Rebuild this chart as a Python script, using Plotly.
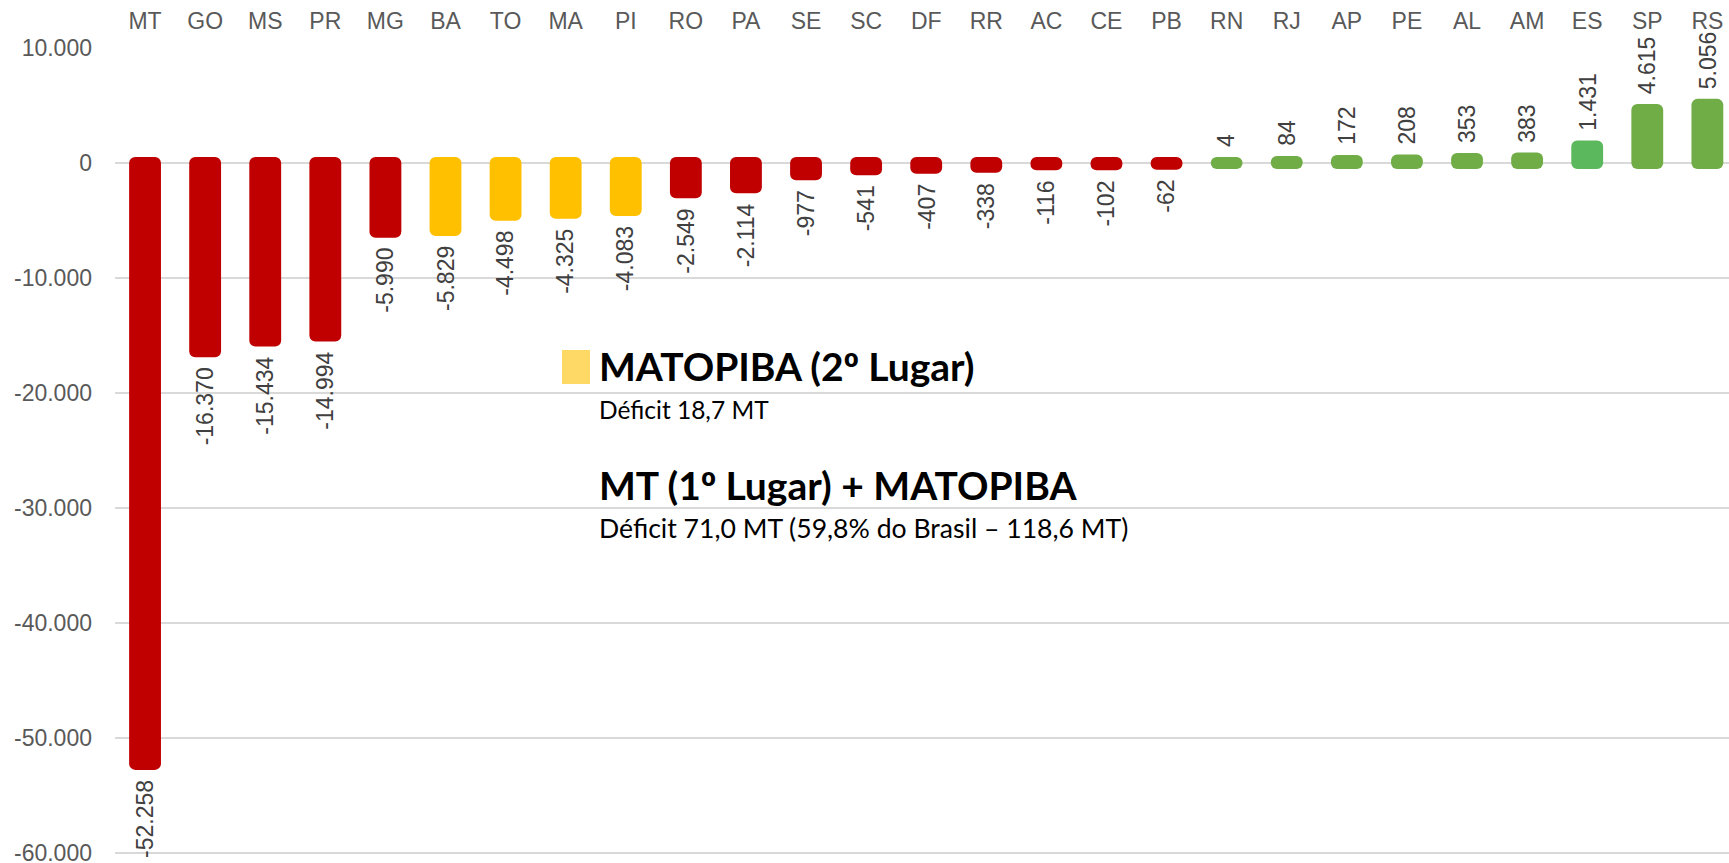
import plotly.graph_objects as go

# ---------------- data ----------------
states = ["MT", "GO", "MS", "PR", "MG", "BA", "TO", "MA", "PI", "RO", "PA", "SE", "SC", "DF",
          "RR", "AC", "CE", "PB", "RN", "RJ", "AP", "PE", "AL", "AM", "ES", "SP", "RS"]
balance = [-52258, -16370, -15434, -14994, -5990, -5829, -4498, -4325, -4083, -2549, -2114,
           -977, -541, -407, -338, -116, -102, -62, 4, 84, 172, 208, 353, 383, 1431, 4615, 5056]
matopiba = ["BA", "TO", "MA", "PI"]
highlight = ["ES"]
y_ticks = [10000, 0, -10000, -20000, -30000, -40000, -50000, -60000]

ORD = "<span style=\"font-family:'Noto Sans'\">º</span>"
title1 = f"<b>MATOPIBA (2{ORD} Lugar)</b>"
sub1 = "Déficit 18,7 MT"
title2 = f"<b>MT (1{ORD} Lugar) + MATOPIBA</b>"
sub2 = "Déficit 71,0 MT (59,8% do Brasil – 118,6 MT)"

# ---------------- style ----------------
W, H = 1729, 863
ML, MR, MT_, MB = 115, 0, 48, 8
Y_RANGE = [-60180, 10000]
RED, YELLOW, GREEN, GREEN2 = "#C00000", "#FFC000", "#70AD47", "#5CB85C"
PAD = 520  # visual extension of bar ends (data units), like rounded caps


def fmt(v):
    return f"{v:,}".replace(",", ".")


def color_for(s, v):
    if s in matopiba:
        return YELLOW
    if s in highlight:
        return GREEN2
    return RED if v < 0 else GREEN


colors = [color_for(s, v) for s, v in zip(states, balance)]
bases = [PAD if v < 0 else -PAD for v in balance]
lengths = [v - 2 * PAD if v < 0 else v + 2 * PAD for v in balance]

fig = go.Figure(go.Bar(
    x=states, y=lengths, base=bases,
    marker=dict(color=colors, cornerradius=6, line=dict(width=0)),
    width=0.53,
    customdata=balance,
    hovertemplate="%{x}: %{customdata}<extra></extra>",
))

annotations = []
for s, v in zip(states, balance):
    neg = v < 0
    annotations.append(dict(
        x=s, y=(v - PAD) if neg else (v + PAD), xref="x", yref="y",
        text=fmt(v), textangle=-90, showarrow=False,
        yanchor="top" if neg else "bottom", xanchor="center",
        yshift=-8 if neg else 8,
        font=dict(family="Liberation Sans, Arial", size=23, color="#404040"),
    ))


def px_x(p):
    return (p - ML) / (W - ML - MR)


def px_y(p):
    return (H - MB - p) / (H - MT_ - MB)


for txt, size, base_y in [(title1, 39, 381), (sub1, 24.5, 419), (title2, 39, 500), (sub2, 26.6, 538)]:
    annotations.append(dict(
        x=px_x(597), y=px_y(base_y - 0.387 * size), xref="paper", yref="paper",
        text=txt, showarrow=False, xanchor="left", yanchor="middle", align="left",
        font=dict(family="Lato", size=size, color="#000000"),
    ))

fig.update_layout(
    width=W, height=H,
    margin=dict(l=ML, r=MR, t=MT_, b=MB, pad=0, autoexpand=False),
    plot_bgcolor="white", paper_bgcolor="white",
    showlegend=False,
    annotations=annotations,
    shapes=[dict(type="rect", xref="paper", yref="paper",
                 x0=px_x(562), x1=px_x(590), y0=px_y(384), y1=px_y(350),
                 fillcolor="#FFD966", line=dict(width=0))],
    xaxis=dict(side="top", range=[-0.5, 26.36], showgrid=False, showline=False, ticks="",
               tickfont=dict(family="Liberation Sans, Arial", size=23, color="#595959"),
               ticklabelstandoff=13, automargin=False, ticklabeloverflow="allow"),
    yaxis=dict(range=Y_RANGE, tickvals=y_ticks, ticktext=[fmt(v) for v in y_ticks],
               showgrid=True, gridcolor="#D9D9D9", gridwidth=1.5,
               zeroline=True, zerolinecolor="#D9D9D9", zerolinewidth=1.5,
               showline=False, ticks="", automargin=False, ticklabeloverflow="allow",
               tickfont=dict(family="Liberation Sans, Arial", size=23, color="#595959"),
               ticklabelstandoff=22),
)

fig.write_html("out.html", config={"displayModeBar": False},
               post_script="document.body.style.margin='0px';document.body.style.overflow='hidden';")
